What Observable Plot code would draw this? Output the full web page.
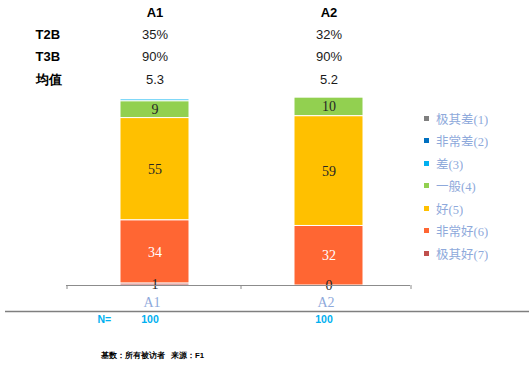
<!DOCTYPE html>
<html>
<head>
<meta charset="utf-8">
<script src="https://cdn.jsdelivr.net/npm/d3@7"></script>
<script src="https://cdn.jsdelivr.net/npm/@observablehq/plot@0.6"></script>
<style>
  body { margin: 0; background: #fff; }
  #chart { position: relative; width: 529px; height: 366px; overflow: hidden; }
  #chart > svg { position: absolute; left: 0; top: 0; }
  #legend { position: absolute; left: 424px; top: 107px; }
  .lg-swatches { font-family: "Liberation Serif", "Noto Sans CJK SC", serif; font-size: 12.5px; color: #8EA9DB; margin: 0; }
  .lg-swatch { height: 22.5px; padding-bottom: 0 !important; }
  .lg-swatch > svg { margin-right: 7px !important; }
</style>
</head>
<body>
<div id="chart"><div id="legend"></div></div>
<script>
// Products being rated
const categories = ["A1", "A2"];

// Rating scale, worst to best
const levels = ["极其差(1)", "非常差(2)", "差(3)", "一般(4)", "好(5)", "非常好(6)", "极其好(7)"];
const levelColors = ["#7F7F7F", "#0070C0", "#00B0F0", "#92D050", "#FFC000", "#FF6633", "#C0504D"];

// Share of respondents (%) per rating, one array per product
const sharesA1 = [0, 0, 1, 9, 55, 34, 1];
const sharesA2 = [0, 0, 0, 10, 59, 32, 0];

// Summary table above the bars
const t2b = ["35%", "32%"];
const t3b = ["90%", "90%"];
const means = ["5.3", "5.2"];
const sampleN = ["100", "100"];

// Ratings that carry a value label
const labelledLevels = ["一般(4)", "好(5)", "非常好(6)", "极其好(7)"];

const rows = [];
[sharesA1, sharesA2].forEach((shares, j) => {
  shares.forEach((v, i) => rows.push({cat: categories[j], level: levels[i], value: v}));
});

const stackOrder = levels.slice().reverse(); // best rating at the bottom
const sans = "Liberation Sans, Arial, sans-serif";
const serif = "Liberation Serif, Times New Roman, serif";

const tableRows = [
  {label: "T2B", values: t2b},
  {label: "T3B", values: t3b},
  {label: "均值", values: means}
];
const rowDy = [-64.5, -42.5, -19.5];

const stackOpts = {x: "cat", y: "value", z: "level", order: stackOrder};

const marks = [
  // stacked bars
  Plot.barY(rows, Plot.stackY({...stackOpts, fill: "level", stroke: "white", strokeWidth: 1})),
  // segment value labels
  Plot.text(rows, Plot.stackY({
    ...stackOpts,
    text: d => labelledLevels.includes(d.level) ? String(d.value) : null,
    fill: d => d.level === "非常好(6)" ? "white" : "#262626",
    fontFamily: serif, fontSize: 14
  })),
  // category axis baseline and boundary ticks
  Plot.ruleY([0], {stroke: "#8C8C8C", strokeWidth: 1, insetLeft: -1, insetRight: 5}),
  Plot.ruleX(categories, {x: d => d, y1: 0, y2: 0, insetBottom: -4, dx: -88, stroke: "#8C8C8C"}),
  Plot.ruleX(categories.slice(-1), {x: d => d, y1: 0, y2: 0, insetBottom: -4, dx: 82, stroke: "#8C8C8C"}),
  Plot.axisX({tickSize: 0, tickPadding: 12, dx: -3, fill: "#8EA9DB", fontFamily: serif, fontSize: 14, label: null}),
  // separator line under the axis
  Plot.ruleY([0], {dy: 26, insetLeft: -62, insetRight: -120, stroke: "#7F7F7F", strokeWidth: 1.3}),
  // sample sizes
  Plot.text(["N="], {frameAnchor: "bottom-left", lineAnchor: "middle", dx: 30, dy: 34, fill: "#00B0F0", fontWeight: "bold", fontFamily: sans, fontSize: 10.5}),
  Plot.text(categories.map((c, j) => ({cat: c, n: sampleN[j]})), {x: "cat", text: "n", frameAnchor: "bottom", lineAnchor: "middle", dx: -5, dy: 34, fill: "#00B0F0", fontWeight: "bold", fontFamily: sans, fontSize: 10.5}),
  // column headers of the summary table
  Plot.text(categories, {x: d => d, text: d => d, frameAnchor: "top", lineAnchor: "middle", dy: -87, fill: "black", fontWeight: "bold", fontFamily: sans, fontSize: 13}),
  // footnote
  Plot.text(["基数：所有被访者   来源：F1"], {frameAnchor: "bottom-left", lineAnchor: "middle", textAnchor: "start", dx: 33, dy: 70, fill: "black", fontWeight: "bold", fontFamily: sans, fontSize: 7.8})
];

tableRows.forEach((r, i) => {
  marks.push(Plot.text([r.label], {frameAnchor: "top-left", lineAnchor: "middle", textAnchor: "start", dx: -32, dy: rowDy[i], fill: "black", fontWeight: "bold", fontFamily: sans, fontSize: 13}));
  marks.push(Plot.text(categories.map((c, j) => ({cat: c, v: r.values[j]})), {x: "cat", text: "v", frameAnchor: "top", lineAnchor: "middle", dy: rowDy[i], fill: "#1a1a1a", fontFamily: sans, fontSize: 13}));
});

const chart = Plot.plot({
  width: 529,
  height: 366,
  marginTop: 99,
  marginBottom: 81,
  marginLeft: 67,
  marginRight: 114,
  style: {background: "white", overflow: "visible"},
  x: {domain: categories, paddingInner: 0.606, paddingOuter: 0.303, axis: null},
  y: {domain: [0, 100], axis: null},
  color: {domain: levels, range: levelColors},
  marks
});

const chartDiv = document.getElementById("chart");
chartDiv.insertBefore(chart, chartDiv.firstChild);

const legend = Plot.legend({
  color: {type: "ordinal", domain: levels, range: levelColors},
  legend: "swatches",
  columns: 1,
  swatchSize: 5,
  className: "lg"
});
document.getElementById("legend").appendChild(legend);
</script>
</body>
</html>
